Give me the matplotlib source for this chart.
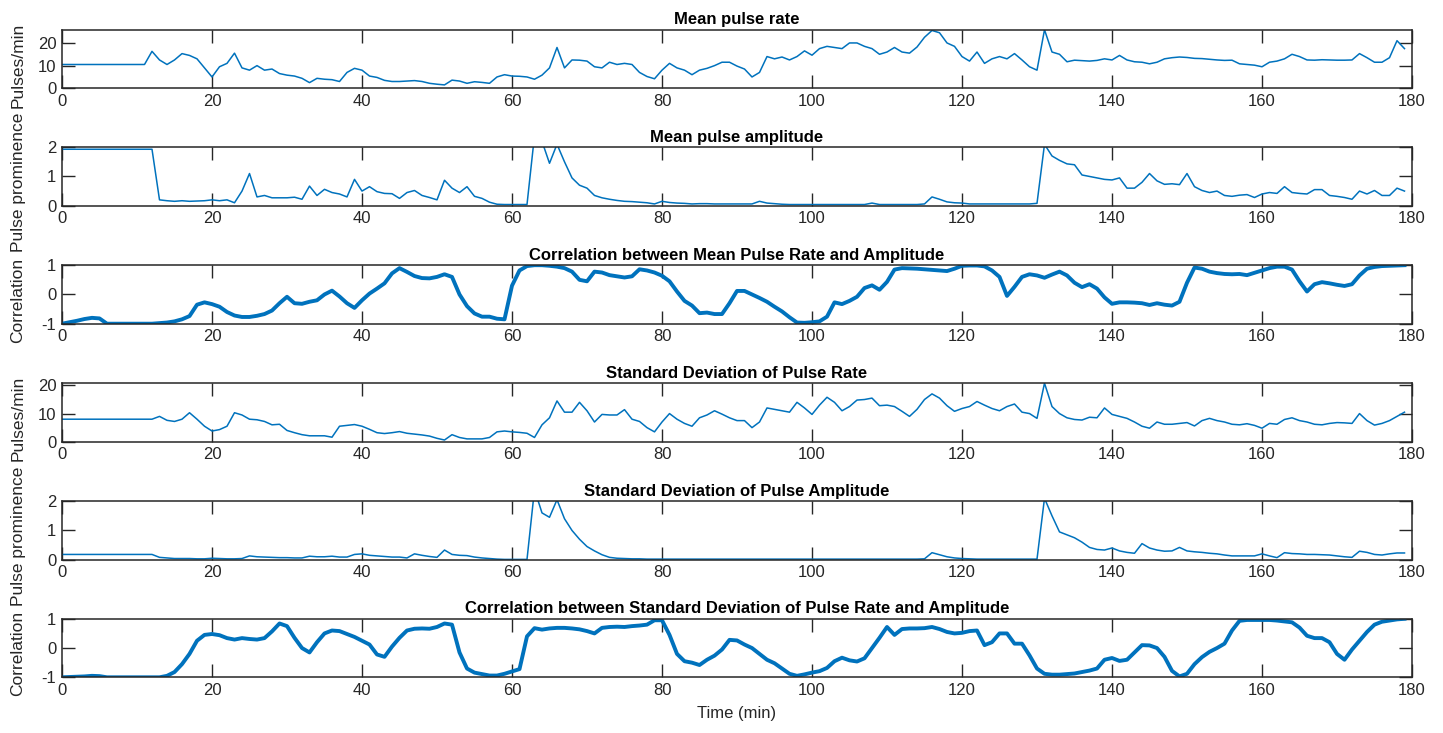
import numpy as np
import matplotlib
matplotlib.use("Agg")
from matplotlib import pyplot as plt

# one value per minute
t = np.arange(180)

rate_mean = [10.5, 10.5, 10.5, 10.5, 10.5, 10.5, 10.5, 10.5, 10.5, 10.5,
             10.5, 10.5, 16.3, 12.5, 10.5, 12.5, 15.3, 14.5, 13, 9,
             5, 9.5, 11, 15.5, 9, 8, 10, 8, 8.5, 6.5,
             5.8, 5.4, 4.4, 2.5, 4.4, 4, 3.8, 3, 7, 8.8,
             8, 5.4, 4.8, 3.5, 3, 3, 3.2, 3.4, 3, 2.2,
             1.8, 1.5, 3.6, 3.2, 2.2, 2.9, 2.6, 2.2, 5, 6,
             5.4, 5.3, 5, 4, 5.8, 9, 18, 9, 12.5, 12.4,
             12, 9.5, 9, 11.5, 10.5, 11, 10.5, 7, 5.2, 4.2,
             8, 11, 9, 8, 6, 8, 8.8, 10, 11.5, 11.5,
             9.8, 8.5, 5, 7, 14, 13, 13.8, 12.5, 14, 16.5,
             14.6, 17.5, 18.5, 18, 17.5, 20, 20, 18.5, 17.5, 15,
             16, 18, 16, 15.5, 18.2, 22.5, 25.5, 24.5, 20, 18.5,
             14, 12, 16, 11, 13, 14, 13, 15.3, 12.5, 9.5,
             8, 25.8, 16, 15, 11.7, 12.4, 12.2, 12, 12.3, 13,
             12.5, 14.5, 12.5, 11.7, 11.5, 10.8, 11.5, 13, 13.5, 13.8,
             13.6, 13.2, 13.1, 12.8, 12.5, 12.3, 12.4, 10.8, 10.5, 10.2,
             9.5, 11.5, 12, 13, 15, 14, 12.5, 12.4, 12.6, 12.5,
             12.4, 12.4, 12.5, 15.3, 13.5, 11.5, 11.5, 13.5, 21, 17.5]

amp_mean = [1.93, 1.93, 1.93, 1.93, 1.93, 1.93, 1.93, 1.93, 1.93, 1.93,
            1.93, 1.93, 1.93, 0.2, 0.17, 0.15, 0.17, 0.15, 0.16, 0.17,
            0.2, 0.17, 0.2, 0.1, 0.5, 1.1, 0.3, 0.35, 0.27, 0.27,
            0.27, 0.29, 0.22, 0.67, 0.35, 0.56, 0.45, 0.4, 0.3, 0.9,
            0.5, 0.65, 0.48, 0.42, 0.41, 0.25, 0.45, 0.52, 0.35, 0.28,
            0.2, 0.87, 0.6, 0.45, 0.65, 0.32, 0.25, 0.12, 0.05, 0.04,
            0.04, 0.04, 0.04, 2.4, 2.2, 1.45, 2.1, 1.5, 0.95, 0.7,
            0.6, 0.35, 0.27, 0.22, 0.18, 0.15, 0.14, 0.12, 0.1, 0.06,
            0.15, 0.11, 0.09, 0.08, 0.06, 0.07, 0.07, 0.06, 0.06, 0.06,
            0.06, 0.06, 0.06, 0.15, 0.09, 0.07, 0.05, 0.04, 0.04, 0.04,
            0.04, 0.04, 0.04, 0.04, 0.04, 0.04, 0.04, 0.04, 0.09, 0.04,
            0.04, 0.04, 0.04, 0.04, 0.04, 0.06, 0.3, 0.22, 0.13, 0.1,
            0.09, 0.06, 0.06, 0.06, 0.06, 0.06, 0.06, 0.06, 0.06, 0.06,
            0.08, 2.1, 1.7, 1.55, 1.43, 1.4, 1.05, 1.0, 0.95, 0.9,
            0.88, 0.95, 0.6, 0.6, 0.8, 1.1, 0.85, 0.73, 0.75, 0.72,
            1.1, 0.65, 0.52, 0.45, 0.5, 0.35, 0.32, 0.36, 0.38, 0.28,
            0.4, 0.45, 0.42, 0.65, 0.45, 0.42, 0.4, 0.55, 0.55, 0.35,
            0.32, 0.28, 0.22, 0.5, 0.4, 0.52, 0.35, 0.35, 0.6, 0.5]

corr_mean = [-1, -0.95, -0.9, -0.84, -0.8, -0.82, -1, -1, -1, -1,
             -1, -1, -1, -0.98, -0.96, -0.92, -0.85, -0.74, -0.35, -0.27,
             -0.33, -0.42, -0.6, -0.72, -0.77, -0.77, -0.73, -0.67, -0.55, -0.3,
             -0.08, -0.3, -0.32, -0.25, -0.2, 0.0, 0.13, -0.07, -0.3, -0.46,
             -0.2, 0.03, 0.2, 0.38, 0.72, 0.9, 0.77, 0.63, 0.56, 0.55,
             0.6, 0.69, 0.6, 0.0, -0.4, -0.65, -0.76, -0.76, -0.83, -0.85,
             0.3, 0.82, 0.97, 1.0, 1.0, 0.98, 0.95, 0.9, 0.78, 0.5,
             0.45, 0.78, 0.75, 0.66, 0.62, 0.58, 0.62, 0.86, 0.82, 0.75,
             0.64, 0.45, 0.1, -0.22, -0.38, -0.64, -0.62, -0.67, -0.67, -0.3,
             0.12, 0.12, 0.0, -0.12, -0.25, -0.42, -0.58, -0.78, -0.96, -0.97,
             -0.95, -0.92, -0.76, -0.27, -0.33, -0.22, -0.08, 0.22, 0.31, 0.16,
             0.43, 0.85, 0.9, 0.89, 0.88, 0.86, 0.84, 0.82, 0.8, 0.88,
             0.98, 0.99, 0.99, 0.96, 0.82, 0.6, -0.05, 0.26, 0.6, 0.69,
             0.65, 0.57, 0.68, 0.78, 0.65, 0.4, 0.25, 0.35, 0.2, -0.1,
             -0.32, -0.27, -0.27, -0.28, -0.3, -0.36, -0.3, -0.35, -0.38, -0.25,
             0.4, 0.92, 0.88, 0.78, 0.73, 0.7, 0.69, 0.7, 0.66, 0.74,
             0.82, 0.9, 0.95, 0.95, 0.85, 0.45, 0.1, 0.35, 0.42, 0.38,
             0.33, 0.29, 0.35, 0.65, 0.88, 0.94, 0.97, 0.98, 0.99, 1.0]

rate_std = [8, 8, 8, 8, 8, 8, 8, 8, 8, 8,
            8, 8, 8, 9, 7.6, 7.2, 8, 10.3, 8, 5.5,
            3.8, 4.3, 5.5, 10.3, 9.5, 8, 7.8, 7.2, 6, 6.2,
            4, 3.2, 2.5, 2.1, 2.1, 2.1, 1.6, 5.5, 5.8, 6.1,
            5.5, 4.4, 3.2, 2.9, 3.2, 3.6, 3, 2.7, 2.4, 2,
            1.2, 0.6, 2.5, 1.5, 1, 1, 1, 1.5, 3.5, 3.8,
            3.5, 3.3, 3, 1.5, 6, 8.5, 14.5, 10.5, 10.5, 14,
            11, 7, 9.7, 9.5, 9.5, 11.4, 8, 7.2, 5, 3.5,
            7, 10, 8, 6.5, 5.5, 8.5, 9.5, 11, 9.8, 8.5,
            7.5, 7.5, 5, 7, 12, 11.5, 11, 10.5, 14, 12,
            9.7, 13, 15.8, 14, 11, 12.5, 14.8, 15, 15.5, 12.8,
            13, 12.5, 10.8, 9, 11.5, 15, 17, 15.5, 12.8, 10.8,
            11.8, 12.5, 14.3, 13, 11.8, 11, 12.5, 13.4, 10.5, 10,
            8.3, 20.8, 12.5, 10, 8.5, 7.9, 7.7, 8.7, 8.5, 12,
            9.7, 9, 8.3, 7, 5.5, 4.8, 7, 6.2, 6.2, 6.5,
            6.8, 5.6, 7.5, 8.3, 7.5, 7, 6.2, 6, 6.4, 5.8,
            4.8, 6.5, 6.2, 7.9, 8.5, 7.5, 7, 6.2, 6, 6.5,
            6.8, 6.7, 6.5, 10, 7.5, 5.9, 6.5, 7.5, 9, 10.5]

amp_std = [0.18, 0.18, 0.18, 0.18, 0.18, 0.18, 0.18, 0.18, 0.18, 0.18,
           0.18, 0.18, 0.18, 0.08, 0.06, 0.04, 0.04, 0.04, 0.03, 0.03,
           0.05, 0.04, 0.03, 0.03, 0.04, 0.13, 0.1, 0.09, 0.08, 0.07,
           0.07, 0.06, 0.06, 0.12, 0.1, 0.1, 0.12, 0.09, 0.09, 0.18,
           0.2, 0.15, 0.13, 0.11, 0.09, 0.09, 0.06, 0.2, 0.15, 0.11,
           0.08, 0.33, 0.18, 0.15, 0.14, 0.09, 0.06, 0.04, 0.02, 0.01,
           0.01, 0.01, 0.01, 2.4, 1.6, 1.45, 2.05, 1.4, 1.0, 0.7,
           0.45, 0.3, 0.17, 0.08, 0.05, 0.04, 0.03, 0.03, 0.02, 0.02,
           0.02, 0.02, 0.02, 0.02, 0.02, 0.02, 0.02, 0.02, 0.02, 0.02,
           0.02, 0.02, 0.02, 0.02, 0.02, 0.02, 0.02, 0.02, 0.02, 0.02,
           0.02, 0.02, 0.02, 0.02, 0.02, 0.02, 0.02, 0.02, 0.02, 0.02,
           0.02, 0.02, 0.02, 0.02, 0.02, 0.03, 0.24, 0.17, 0.1, 0.06,
           0.04, 0.03, 0.02, 0.02, 0.02, 0.02, 0.02, 0.02, 0.02, 0.02,
           0.02, 2.1, 1.5, 0.95, 0.85, 0.75, 0.6, 0.42, 0.35, 0.33,
           0.4, 0.3, 0.25, 0.22, 0.55, 0.4, 0.33, 0.29, 0.3, 0.42,
           0.3, 0.27, 0.25, 0.22, 0.2, 0.16, 0.13, 0.13, 0.13, 0.13,
           0.2, 0.13, 0.07, 0.24, 0.21, 0.2, 0.18, 0.18, 0.17, 0.16,
           0.13, 0.1, 0.08, 0.29, 0.25, 0.18, 0.16, 0.2, 0.23, 0.23]

corr_std = [-1, -0.99, -0.98, -0.97, -0.95, -0.96, -1, -1, -1, -1,
            -1, -1, -1, -1, -0.95, -0.82, -0.55, -0.2, 0.25, 0.45,
            0.48, 0.44, 0.34, 0.29, 0.34, 0.31, 0.29, 0.34, 0.57, 0.84,
            0.75, 0.35, 0.0, -0.15, 0.2, 0.5, 0.6, 0.58, 0.48, 0.38,
            0.25, 0.12, -0.22, -0.3, 0.05, 0.35, 0.6, 0.66, 0.67, 0.66,
            0.72, 0.84, 0.8, -0.15, -0.7, -0.84, -0.89, -0.94, -0.94, -0.88,
            -0.8, -0.72, 0.4, 0.68, 0.63, 0.67, 0.69, 0.69, 0.67, 0.64,
            0.58, 0.5, 0.69, 0.72, 0.73, 0.72, 0.75, 0.77, 0.8, 0.95,
            0.95, 0.45, -0.2, -0.45, -0.5, -0.58, -0.4, -0.26, -0.05, 0.28,
            0.26, 0.12, 0.0, -0.2, -0.4, -0.52, -0.7, -0.88, -0.95, -0.9,
            -0.84, -0.79, -0.68, -0.45, -0.33, -0.42, -0.46, -0.35, 0.0, 0.35,
            0.72, 0.45, 0.65, 0.67, 0.67, 0.68, 0.72, 0.65, 0.55, 0.5,
            0.52, 0.58, 0.6, 0.1, 0.2, 0.5, 0.5, 0.15, 0.15, -0.25,
            -0.7, -0.88, -0.91, -0.91, -0.89, -0.87, -0.82, -0.77, -0.7, -0.4,
            -0.34, -0.44, -0.4, -0.15, 0.1, 0.09, 0.0, -0.3, -0.78, -0.97,
            -0.88, -0.55, -0.31, -0.13, 0.0, 0.15, 0.6, 0.93, 0.96, 0.96,
            0.96, 0.96, 0.94, 0.91, 0.88, 0.7, 0.42, 0.34, 0.34, 0.2,
            -0.2, -0.4, -0.05, 0.25, 0.55, 0.8, 0.9, 0.94, 0.98, 1.0]

titles = ["Mean pulse rate",
          "Mean pulse amplitude",
          "Correlation between Mean Pulse Rate and Amplitude",
          "Standard Deviation of Pulse Rate",
          "Standard Deviation of Pulse Amplitude",
          "Correlation between Standard Deviation of Pulse Rate and Amplitude"]
ylabels = ["Pulses/min", "Pulse prominence", "Correlation",
           "Pulses/min", "Pulse prominence", "Correlation"]
series = [rate_mean, amp_mean, corr_mean, rate_std, amp_std, corr_std]

plt.rcParams['font.family'] = ['Liberation Sans', 'DejaVu Sans']
plt.rcParams['font.size'] = 12
plt.rcParams['axes.unicode_minus'] = False

blue = '#0072BD'
dark = '#262626'

ylims = [(0, 25.8), (0, 2), (-1, 1), (0, 20.8), (0, 2), (-1, 1)]
yticks = [[0, 10, 20], [0, 1, 2], [-1, 0, 1], [0, 10, 20], [0, 1, 2], [-1, 0, 1]]
widths = [1.1, 1.1, 2.8, 1.1, 1.1, 2.8]
bottoms = [88.3, 205.7, 323.7, 441.7, 559.7, 677.3]  # pixel rows of the axes bottoms

W, H = 1443, 733
fig = plt.figure(figsize=(W / 100, H / 100), dpi=100)

for i in range(6):
    ax = fig.add_axes([62 / W, 1 - bottoms[i] / H, 1350 / W, 58.5 / H])
    ax.plot(t, series[i], color=blue, lw=widths[i])
    ax.set_xlim(0, 180)
    ax.set_ylim(*ylims[i])
    ax.set_xticks(range(0, 181, 20))
    ax.set_yticks(yticks[i])
    ax.tick_params(direction='in', length=9.5, width=1, top=True, right=True,
                   color=dark, labelcolor=dark, labelsize=12, pad=4)
    for s in ax.spines.values():
        s.set_color(dark)
        s.set_linewidth(1.1)
    ax.set_title(titles[i], fontsize=12, fontweight='bold', pad=4)
    ax.set_ylabel(ylabels[i], fontsize=12.5, color=dark)
    ax.yaxis.set_label_coords(-0.027, 0.4)
    if i == 5:
        ax.set_xlabel("Time (min)", fontsize=12, color=dark, labelpad=6)

fig.savefig("out.png", dpi=100)
